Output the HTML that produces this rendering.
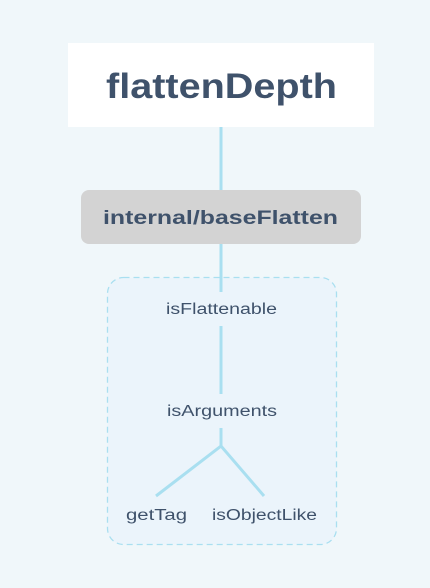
<!DOCTYPE html>
<html><head><style>
body{margin:0;width:430px;height:588px;background:#f0f7fa;overflow:hidden}
</style></head><body>
<svg width="430" height="588" xmlns="http://www.w3.org/2000/svg" style="position:absolute;left:0;top:0">
<rect x="68" y="43" width="306" height="84" fill="#fff"/>
<rect x="81" y="190" width="280" height="54" rx="8" fill="#d3d3d3"/>
<rect x="107.5" y="277.5" width="229" height="267" rx="16" fill="#ebf4fb" stroke="#a9dff0" stroke-width="1.3" stroke-dasharray="6,4"/>
<g stroke="#a9dff0" stroke-width="3" fill="none">
<line x1="221" y1="127" x2="221" y2="190"/>
<line x1="221" y1="244" x2="221" y2="292"/>
<line x1="221" y1="326" x2="221" y2="394"/>
<line x1="221" y1="428" x2="221" y2="446"/>
<polyline points="156,496 221,446 264,496"/>
</g>
<g font-family="Liberation Sans, sans-serif" fill="#3f526b" text-anchor="middle">
<text x="221.5" y="98" font-size="35" font-weight="bold" textLength="231" lengthAdjust="spacingAndGlyphs">flattenDepth</text>
<text x="220.5" y="224" font-size="19" font-weight="bold" textLength="235" lengthAdjust="spacingAndGlyphs">internal/baseFlatten</text>
<text x="221.5" y="314" font-size="15.5" textLength="111" lengthAdjust="spacingAndGlyphs">isFlattenable</text>
<text x="222" y="416" font-size="15.5" textLength="110" lengthAdjust="spacingAndGlyphs">isArguments</text>
<text x="156.5" y="520" font-size="15.5" textLength="61" lengthAdjust="spacingAndGlyphs">getTag</text>
<text x="264.5" y="520" font-size="15.5" textLength="105" lengthAdjust="spacingAndGlyphs">isObjectLike</text>
</g>
</svg>
</body></html>
